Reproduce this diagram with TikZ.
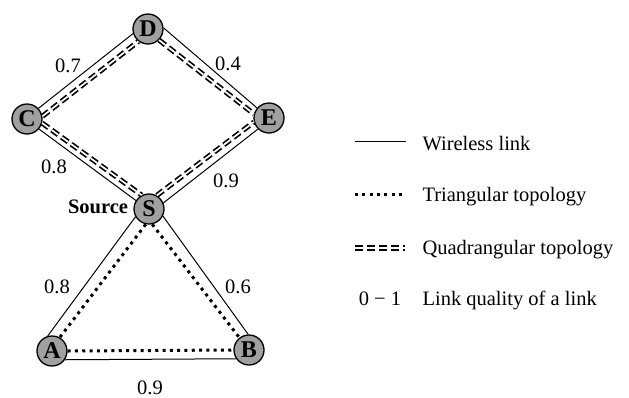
\documentclass[tikz,border=0pt]{standalone}
\usepackage{fontspec}
\setmainfont{Liberation Serif}
\begin{document}
\begin{tikzpicture}[x=1pt,y=-1pt,
  every node/.style={font=\fontsize{20.5}{24}\selectfont},
  nd/.style={circle,draw,line width=1.3pt,fill={rgb,255:red,160;green,160;blue,160},
    minimum size=30pt,inner sep=0pt,font=\fontsize{24}{26}\selectfont\bfseries},
  wl/.style={line width=1pt},
  tri/.style={line width=3pt,dash pattern=on 3pt off 4.3pt},
  quad/.style={line width=1.7pt,double distance=1.7pt,double=white,dash pattern=on 8pt off 4pt},
  lab/.style={anchor=base}]
\useasboundingbox (0,0) rectangle (629,397);
% nodes
\node[nd] (D) at (148,29) {D};
\node[nd] (C) at (27,119) {C};
\node[nd] (E) at (269,118) {E};
\node[nd] (S) at (149,209) {S};
\node[nd] (A) at (52,351) {A};
\node[nd] (B) at (249,350) {B};
% wireless links
\draw[wl] (C.43) -- (D.197);
\draw[wl] (D.4) -- (E.140);
\draw[wl] (C.320) -- (S.147);
\draw[wl] (S.23) -- (E.225);
\draw[wl] (S.210) -- (A.106);
\draw[wl] (S.333) -- (B.93);
\draw[wl] (A.-34) -- (B.214);
% quadrangular
\draw[quad] (C.10) -- (D.232);
\draw[quad] (D.315) -- (E.165);
\draw[quad] (C.345) -- (S.118);
\draw[quad] (S.60) -- (E.195);
% triangular
\draw[tri] (S.258) -- (A.60);
\draw[tri] (S.282) -- (B.128);
\draw[tri] (A.0) -- (B.180);
% labels
\node[lab] (l1) at (68,72) {0.7};
\node[lab] (l2) at (228,70) {0.4};
\node[lab] (l3) at (54,173) {0.8};
\node[lab] (l4) at (226,187) {0.9};
\node[lab,font=\fontsize{20.5}{24}\selectfont\bfseries] (src) at (98,213) {Source};
\node[lab] (l5) at (57,293) {0.8};
\node[lab] (l6) at (238,293) {0.6};
\node[lab] (l7) at (150,394) {0.9};
% legend
\coordinate (w1) at (355,141); \coordinate (w2) at (406,141);
\draw[wl] (w1) -- (w2);
\coordinate (t1) at (355,194); \coordinate (t2) at (405,194);
\draw[tri] (t1) -- (t2);
\coordinate (q1) at (355,248); \coordinate (q2) at (405,248);
\draw[quad] (q1) -- (q2);
\node[lab,anchor=base west] (g1) at (419,150) {Wireless link};
\node[lab,anchor=base west] (g2) at (419,201) {Triangular topology};
\node[lab,anchor=base west] (g3) at (419,254) {Quadrangular topology};
\node[lab] (g4) at (380,305) {0 − 1};
\node[lab,anchor=base west] (g5) at (419,305) {Link quality of a link};
\end{tikzpicture}
\end{document}
